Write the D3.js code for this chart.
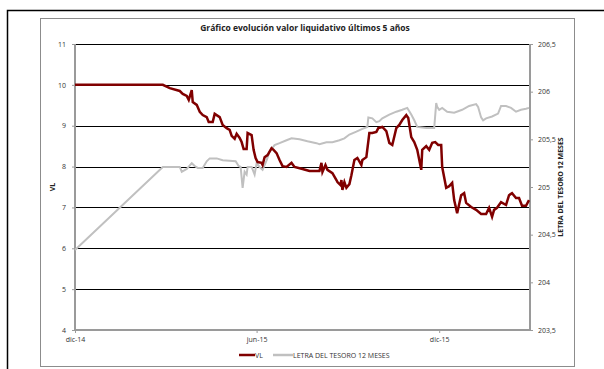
<!DOCTYPE html>
<html>
<head>
<meta charset="utf-8">
<script src="https://cdn.jsdelivr.net/npm/d3@7"></script>
<style>
  html, body { margin: 0; padding: 0; background: #fff; }
  svg { display: block; font-family: "Open Sans", "Liberation Sans", sans-serif; }
</style>
</head>
<body>
<svg id="chart" width="604" height="369"></svg>
<script>
// Valor liquidativo (eje izquierdo)
const vlDates = ["2014-12-01","2015-02-27","2015-03-06","2015-03-16","2015-03-19","2015-03-23","2015-03-25","2015-03-28","2015-03-29","2015-04-02","2015-04-05","2015-04-08","2015-04-12","2015-04-14","2015-04-18","2015-04-20","2015-04-25","2015-04-28","2015-05-02","2015-05-05","2015-05-07","2015-05-10","2015-05-12","2015-05-15","2015-05-17","2015-05-19","2015-05-22","2015-05-23","2015-05-27","2015-05-29","2015-05-31","2015-06-02","2015-06-06","2015-06-07","2015-06-09","2015-06-12","2015-06-16","2015-06-18","2015-06-21","2015-06-24","2015-06-27","2015-07-01","2015-07-06","2015-07-09","2015-07-17","2015-07-24","2015-08-03","2015-08-05","2015-08-06","2015-08-09","2015-08-11","2015-08-16","2015-08-20","2015-08-21","2015-08-24","2015-08-25","2015-08-26","2015-08-28","2015-08-30","2015-09-02","2015-09-04","2015-09-07","2015-09-10","2015-09-14","2015-09-15","2015-09-19","2015-09-22","2015-09-25","2015-09-29","2015-10-01","2015-10-05","2015-10-09","2015-10-12","2015-10-15","2015-10-19","2015-10-22","2015-10-25","2015-10-29","2015-10-31","2015-11-03","2015-11-06","2015-11-09","2015-11-13","2015-11-14","2015-11-18","2015-11-21","2015-11-24","2015-11-27","2015-11-30","2015-12-03","2015-12-04","2015-12-08","2015-12-11","2015-12-14","2015-12-16","2015-12-19","2015-12-23","2015-12-26","2015-12-28","2016-01-02","2016-01-07","2016-01-12","2016-01-17","2016-01-20","2016-01-23","2016-01-25","2016-01-28","2016-02-01","2016-02-06","2016-02-09","2016-02-12","2016-02-16","2016-02-19","2016-02-22","2016-02-26","2016-02-29"];
const vlValues = [10.00,10.00,9.92,9.85,9.78,9.73,9.63,9.87,9.58,9.51,9.34,9.26,9.21,9.09,9.09,9.29,9.21,9.02,8.94,8.90,8.75,8.68,8.80,8.70,8.60,8.43,8.43,8.82,8.77,8.41,8.21,8.11,8.09,8.04,8.23,8.28,8.45,8.41,8.33,8.16,8.01,7.99,8.09,7.99,7.94,7.89,7.89,8.09,7.87,8.04,7.92,7.84,7.67,7.62,7.55,7.67,7.43,7.62,7.48,7.57,7.79,8.16,8.21,8.04,8.16,8.23,8.82,8.82,8.85,8.94,8.97,8.87,8.58,8.53,8.94,9.02,9.14,9.26,9.19,8.72,8.60,8.41,7.92,8.41,8.50,8.41,8.58,8.60,8.53,8.53,7.99,7.48,7.52,7.60,7.18,6.86,7.30,7.35,7.11,7.01,6.94,6.84,6.84,6.99,6.77,6.94,6.99,7.13,7.06,7.30,7.35,7.23,7.23,7.04,7.04,7.18];

// Letra del Tesoro 12 meses (eje derecho)
const letraDates = ["2014-12-01","2015-02-27","2015-03-16","2015-03-18","2015-03-23","2015-03-28","2015-03-31","2015-04-03","2015-04-08","2015-04-12","2015-04-15","2015-04-22","2015-04-28","2015-05-11","2015-05-14","2015-05-16","2015-05-18","2015-05-20","2015-05-22","2015-05-23","2015-05-27","2015-05-30","2015-06-01","2015-06-04","2015-06-07","2015-06-11","2015-06-14","2015-06-19","2015-06-24","2015-07-01","2015-07-06","2015-07-14","2015-07-22","2015-07-31","2015-08-03","2015-08-10","2015-08-16","2015-08-23","2015-08-28","2015-09-02","2015-09-09","2015-09-15","2015-09-20","2015-09-21","2015-09-25","2015-09-29","2015-10-02","2015-10-05","2015-10-12","2015-10-19","2015-10-25","2015-10-30","2015-11-03","2015-11-06","2015-11-09","2015-11-18","2015-11-26","2015-11-28","2015-11-29","2015-12-01","2015-12-04","2015-12-09","2015-12-16","2015-12-24","2015-12-31","2016-01-07","2016-01-09","2016-01-12","2016-01-14","2016-01-17","2016-01-23","2016-01-29","2016-02-01","2016-02-06","2016-02-11","2016-02-16","2016-02-21","2016-02-26","2016-02-29"];
const letraValues = [204.34,205.21,205.21,205.16,205.19,205.25,205.22,205.20,205.20,205.27,205.30,205.30,205.28,205.27,205.22,205.21,204.99,205.16,205.13,205.21,205.21,205.13,205.25,205.21,205.18,205.28,205.37,205.44,205.46,205.49,205.51,205.50,205.48,205.46,205.45,205.47,205.47,205.49,205.51,205.55,205.58,205.61,205.63,205.73,205.72,205.68,205.69,205.72,205.76,205.79,205.81,205.83,205.76,205.70,205.63,205.62,205.62,205.88,205.84,205.81,205.83,205.79,205.78,205.81,205.85,205.87,205.84,205.73,205.70,205.72,205.74,205.77,205.85,205.85,205.83,205.79,205.81,205.82,205.83];

// Ejes
const leftTicks = [4, 5, 6, 7, 8, 9, 10, 11];
const rightTicks = [203.5, 204, 204.5, 205, 205.5, 206, 206.5];
const xTickDates = ["2014-12-01", "2015-06-01", "2015-12-01"];
const xTickLabels = ["dic-14", "jun-15", "dic-15"];

const titleText = "Gráfico evolución valor liquidativo últimos 5 años";
const seriesNames = ["VL", "LETRA DEL TESORO 12 MESES"];
const seriesColors = ["#800000", "#c0c0c0"];

const parse = d3.timeParse("%Y-%m-%d");
const vl = vlDates.map((d, i) => ({ date: parse(d), value: vlValues[i] }));
const letra = letraDates.map((d, i) => ({ date: parse(d), value: letraValues[i] }));

const svg = d3.select("#chart");
const plot = { left: 75, right: 530, top: 44, bottom: 330 };

const x = d3.scaleTime()
  .domain([parse("2014-12-01"), parse("2016-03-01")])
  .range([plot.left, plot.right]);
const yL = d3.scaleLinear().domain([4, 11]).range([plot.bottom, plot.top]);
const yR = d3.scaleLinear().domain([203.5, 206.5]).range([plot.bottom, plot.top]);

// Marcos exteriores
svg.append("path")
  .attr("d", "M7.5,369 V10.5 H604")
  .attr("fill", "none").attr("stroke", "#000").attr("stroke-width", 1.5);
svg.append("rect")
  .attr("x", 40.5).attr("y", 18.5).attr("width", 534).attr("height", 348)
  .attr("fill", "#fff").attr("stroke", "#8c8c8c").attr("stroke-width", 1);

// Título
svg.append("text")
  .attr("x", 305).attr("y", 31)
  .attr("text-anchor", "middle")
  .attr("font-size", 8.5).attr("font-weight", "bold").attr("fill", "#222")
  .text(titleText);

// Líneas de cuadrícula
svg.append("g")
  .selectAll("line")
  .data(leftTicks.filter(t => t > 4))
  .join("line")
  .attr("x1", plot.left).attr("x2", plot.right)
  .attr("y1", d => Math.round(yL(d)) + 0.5).attr("y2", d => Math.round(yL(d)) + 0.5)
  .attr("stroke", "#000").attr("stroke-width", 1);

// Eje izquierdo
const gL = svg.append("g").attr("transform", `translate(${plot.left},0)`)
  .call(d3.axisLeft(yL).tickValues(leftTicks).tickSize(3).tickPadding(6).tickFormat(d3.format("d")));
// Eje derecho
const fmtR = d => d3.format(".1~f")(d).replace(".", ",");
const gR = svg.append("g").attr("transform", `translate(${plot.right},0)`)
  .call(d3.axisRight(yR).tickValues(rightTicks).tickSize(3).tickPadding(5).tickFormat(fmtR));
// Eje inferior
const gX = svg.append("g").attr("transform", `translate(0,${plot.bottom})`)
  .call(d3.axisBottom(x).tickValues(xTickDates.map(parse)).tickSize(3).tickPadding(4)
    .tickFormat((d, i) => xTickLabels[i]));

[gL, gR, gX].forEach(g => {
  g.select(".domain").attr("stroke", "#9a9a9a").attr("stroke-width", 2);
  g.selectAll(".tick line").attr("stroke", "#9a9a9a");
  g.selectAll(".tick text").attr("font-size", 7).attr("fill", "#333")
    .attr("font-family", "'Open Sans', 'Liberation Sans', sans-serif");
});
gL.select(".domain").attr("d", `M0,${plot.top}V${plot.bottom}`);
gR.select(".domain").attr("d", `M0,${plot.top}V${plot.bottom}`);
gX.select(".domain").attr("d", `M${plot.left},0H${plot.right}`);

// Títulos de ejes
svg.append("text")
  .attr("transform", `translate(55,${(plot.top + plot.bottom) / 2}) rotate(-90)`)
  .attr("text-anchor", "middle")
  .attr("font-size", 7).attr("font-weight", "bold").attr("fill", "#222")
  .text(seriesNames[0]);
svg.append("text")
  .attr("transform", `translate(563,${(plot.top + plot.bottom) / 2}) rotate(-90)`)
  .attr("text-anchor", "middle")
  .attr("font-size", 7).attr("font-weight", "bold").attr("fill", "#222")
  .text(seriesNames[1]);

// Series
const lineL = d3.line().x(d => x(d.date)).y(d => yL(d.value));
const lineR = d3.line().x(d => x(d.date)).y(d => yR(d.value));

svg.append("path").datum(letra)
  .attr("d", lineR).attr("fill", "none")
  .attr("stroke", seriesColors[1]).attr("stroke-width", 2).attr("stroke-linejoin", "miter");
svg.append("path").datum(vl)
  .attr("d", lineL).attr("fill", "none")
  .attr("stroke", seriesColors[0]).attr("stroke-width", 2.5).attr("stroke-linejoin", "miter");

// Leyenda
const legend = svg.append("g").attr("transform", "translate(239,355)");
const legendItems = [
  { name: seriesNames[0], color: seriesColors[0], x: 0, w: 16 },
  { name: seriesNames[1], color: seriesColors[1], x: 34, w: 20 }
];
legendItems.forEach(it => {
  legend.append("line")
    .attr("x1", it.x).attr("x2", it.x + it.w).attr("y1", 0).attr("y2", 0)
    .attr("stroke", it.color).attr("stroke-width", 2.5);
  legend.append("text")
    .attr("x", it.x + it.w).attr("y", 2.5)
    .attr("font-size", 7).attr("fill", "#333")
    .text(it.name);
});
</script>
</body>
</html>
